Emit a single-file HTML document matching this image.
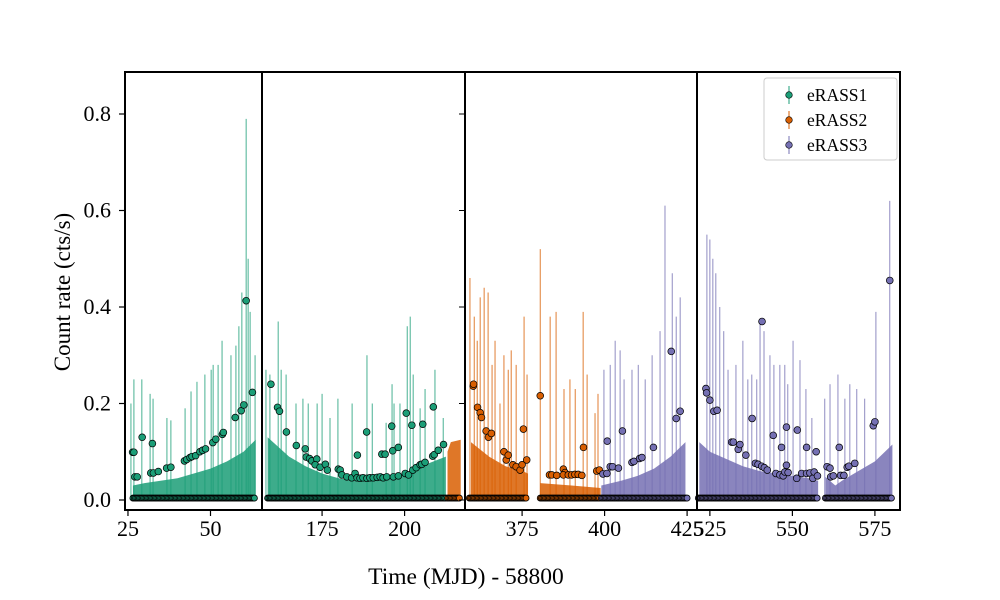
<!DOCTYPE html>
<html><head><meta charset="utf-8">
<style>
body{margin:0;background:#fff;}
svg{display:block;font-family:"Liberation Serif",serif;}
</style></head>
<body>
<svg id="chart" width="1000" height="600" viewBox="0 0 1000 600">
<g id="plot"></g>
<text x="466" y="584" font-size="23.5" text-anchor="middle">Time (MJD) - 58800</text>
<text transform="translate(70,292) rotate(-90)" font-size="23" text-anchor="middle">Count rate (cts/s)</text>
<g>
<rect x="764" y="78" width="133" height="82" rx="3" fill="#fff" stroke="#ccc" stroke-width="1"/>
<g><line x1="789" y1="86" x2="789" y2="104" stroke="#1b9e77"/><circle cx="789" cy="95" r="3.3" fill="#1b9e77" stroke="#000" stroke-width="0.6"/><text x="807" y="101" font-size="17.5">eRASS1</text></g>
<g><line x1="789" y1="111" x2="789" y2="129" stroke="#d95f02"/><circle cx="789" cy="120" r="3.3" fill="#d95f02" stroke="#000" stroke-width="0.6"/><text x="807" y="126" font-size="17.5">eRASS2</text></g>
<g><line x1="789" y1="136" x2="789" y2="154" stroke="#7570b3"/><circle cx="789" cy="145" r="3.3" fill="#7570b3" stroke="#000" stroke-width="0.6"/><text x="807" y="151" font-size="17.5">eRASS3</text></g>
</g>
</svg>
<script>
const yTicks=[0,0.2,0.4,0.6,0.8];
const xTicks=[[25,50],[175,200],[375,400,425],[525,550,575]];
const panelDomains=[[24.1,65.6],[156.8,218.3],[357.7,428.0],[521.1,582.6]];
const colors={e1:"#1b9e77",e2:"#d95f02",e3:"#7570b3"};

// dots [t, rate]
const e1Dots=[[26.4,0.099],[26.8,0.099],[27.1,0.048],[27.8,0.048],[29.3,0.13],[31.9,0.056],[32.7,0.056],[32.4,0.117],[34.2,0.059],[36.7,0.066],[38.0,0.068],[42.1,0.081],[42.8,0.084],[43.8,0.088],[44.4,0.09],[45.5,0.092],[46.8,0.10],[47.6,0.103],[48.5,0.106],[50.7,0.119],[51.6,0.126],[53.6,0.136],[53.9,0.14],[57.5,0.171],[59.3,0.185],[60.1,0.197],[60.8,0.413],[62.7,0.223],
[159.5,0.24],[161.5,0.192],[162.1,0.184],[164.2,0.141],[167.2,0.113],[169.9,0.106],[170.2,0.089],[171.2,0.086],[171.9,0.081],[173.4,0.085],[172.9,0.073],[174.4,0.068],[176.0,0.074],[176.6,0.062],[179.9,0.064],[180.5,0.062],[181.0,0.052],[182.5,0.048],[184.0,0.046],[185.0,0.055],[185.7,0.093],[185.6,0.046],[186.5,0.045],[187.4,0.046],[188.6,0.045],[189.5,0.046],[190.5,0.046],[191.7,0.047],[192.6,0.048],[193.5,0.046],[188.5,0.141],[193.1,0.095],[194.1,0.095],[196.1,0.153],[196.4,0.102],[198.1,0.109],[194.6,0.048],[196.6,0.048],[198.1,0.05],[200.2,0.055],[200.5,0.18],[201.2,0.052],[202.2,0.155],[202.5,0.062],[203.5,0.067],[204.7,0.073],[205.5,0.157],[205.2,0.074],[206.2,0.078],[208.7,0.193],[208.5,0.091],[209.0,0.094],[210.2,0.103],[211.8,0.115]];
const e2Dots=[[360.2,0.236],[360.3,0.24],[361.5,0.192],[362.3,0.181],[362.7,0.171],[364.1,0.143],[364.8,0.13],[365.7,0.138],[369.5,0.10],[370.2,0.083],[370.8,0.093],[372.2,0.073],[373.2,0.069],[374.4,0.062],[375.0,0.073],[375.4,0.147],[376.4,0.083],[380.5,0.216],[383.3,0.052],[384.0,0.052],[385.5,0.051],[387.5,0.064],[388.0,0.057],[387.5,0.052],[389.0,0.052],[390.0,0.052],[391.0,0.053],[392.0,0.053],[393.1,0.051],[393.6,0.109],[397.6,0.06],[398.4,0.062]];
const e3Dots=[[399.5,0.054],[400.7,0.055],[400.8,0.122],[401.7,0.069],[402.4,0.069],[404.2,0.066],[405.4,0.143],[408.3,0.078],[408.9,0.08],[410.6,0.086],[411.3,0.088],[414.8,0.109],[420.2,0.308],[421.7,0.169],[422.9,0.184],
[523.8,0.231],[524.0,0.222],[525.0,0.207],[526.2,0.184],[527.2,0.186],[531.6,0.12],[532.1,0.12],[533.6,0.105],[534.1,0.115],[535.9,0.093],[537.8,0.169],[538.8,0.076],[539.6,0.074],[540.7,0.07],[541.5,0.067],[540.8,0.37],[542.4,0.062],[544.2,0.134],[545.0,0.055],[546.2,0.052],[546.7,0.109],[547.2,0.05],[547.7,0.058],[548.2,0.072],[548.2,0.151],[548.7,0.057],[551.3,0.045],[551.5,0.145],[552.8,0.055],[554.3,0.109],[554.3,0.055],[555.3,0.056],[556.2,0.045],[556.6,0.058],[557.2,0.10],[557.6,0.05],
[560.5,0.069],[561.4,0.066],[561.6,0.048],[562.4,0.05],[564.2,0.109],[564.6,0.051],[565.6,0.051],[566.6,0.068],[567.1,0.07],[568.9,0.076],[574.5,0.154],[575.0,0.162],[579.5,0.455]];

// tall error-bar tops [t, top]
const e1Spikes=[[25.9,0.2],[26.8,0.25],[29.2,0.25],[31.7,0.22],[32.6,0.21],[36.8,0.17],[38.0,0.165],[42.3,0.19],[44.1,0.225],[45.9,0.245],[48.3,0.26],[50.2,0.27],[50.8,0.28],[52.3,0.28],[53.5,0.33],[56.2,0.3],[57.7,0.32],[58.6,0.36],[59.5,0.43],[60.8,0.79],[61.4,0.5],[62.0,0.39],[63.5,0.3],
[158.0,0.27],[159.2,0.26],[161.7,0.37],[162.6,0.27],[164.1,0.26],[167.1,0.2],[169.2,0.21],[170.8,0.2],[173.5,0.2],[175.0,0.22],[177.4,0.17],[179.8,0.21],[184.1,0.2],[188.6,0.3],[190.2,0.2],[194.4,0.16],[196.2,0.24],[196.8,0.2],[198.6,0.2],[200.8,0.36],[201.7,0.38],[202.6,0.26],[204.7,0.19],[206.2,0.23],[209.2,0.27],[211.7,0.17]];
const e2Spikes=[[359.2,0.46],[360.5,0.38],[361.4,0.33],[362.3,0.42],[363.5,0.44],[364.7,0.43],[365.9,0.28],[366.8,0.33],[368.3,0.2],[369.5,0.3],[370.8,0.27],[371.7,0.31],[373.2,0.28],[375.6,0.38],[376.5,0.26],[380.5,0.52],[383.5,0.38],[385.3,0.39],[387.7,0.23],[389.5,0.25],[391.1,0.23],[393.5,0.39],[394.7,0.26],[397.1,0.18],[398.0,0.22]];
const e3Spikes=[[399.8,0.27],[401.7,0.28],[403.2,0.33],[404.7,0.31],[405.9,0.25],[408.3,0.27],[410.2,0.28],[412.3,0.25],[414.4,0.3],[416.8,0.35],[418.3,0.61],[420.5,0.47],[421.7,0.38],[422.9,0.42],
[524.1,0.55],[525.0,0.54],[525.9,0.5],[526.8,0.47],[528.0,0.4],[529.2,0.35],[530.5,0.27],[532.9,0.28],[535.0,0.33],[536.5,0.25],[537.7,0.26],[539.2,0.25],[540.2,0.37],[541.4,0.35],[543.2,0.3],[544.4,0.28],[546.2,0.28],[547.7,0.28],[548.6,0.24],[550.2,0.33],[552.3,0.29],[554.1,0.23],[555.9,0.17],[559.8,0.21],[561.4,0.24],[563.8,0.26],[565.9,0.21],[567.4,0.24],[569.5,0.23],[571.9,0.21],[575.3,0.39],[579.5,0.62]];

// band envelopes (segments of [t, top])
const e1Bands=[[[26.5,0.03],[30,0.035],[40,0.045],[50,0.065],[55,0.08],[60,0.1],[63.7,0.125]],
[[158.5,0.13],[165,0.09],[170,0.07],[175,0.055],[180,0.045],[185,0.04],[190,0.04],[195,0.045],[200,0.055],[205,0.07],[212.5,0.09]]];
const e2Bands=[[[213,0.1],[214,0.12],[217,0.125]],
[[359.5,0.12],[365,0.09],[370,0.07],[375,0.06],[376.8,0.055]],
[[380.5,0.035],[390,0.03],[398.8,0.025]]];
const e3Bands=[[[399,0.03],[405,0.04],[410,0.05],[415,0.065],[420,0.09],[424.5,0.12]],
[[521.8,0.12],[525,0.1],[530,0.085],[535,0.07],[540,0.06],[545,0.055],[550,0.05],[555,0.045],[557.8,0.04]],
[[560,0.048],[563,0.03],[565,0.04],[570,0.06],[575,0.08],[580.3,0.115]]];

// bottom-row (upper-limit) time ranges
const e1Rows=[[26.5,63.5],[158.5,212.5]];
const e2Rows=[[213,216.8],[359,376.5],[380.5,398.5]];
const e3Rows=[[399,425],[521.5,557.5],[560,580]];

const panelPx=[[125,262],[262,465],[465,697],[697,900]];
const Y0=500, YPX=482.5, TOP=72, BOT=510;
const yS=v=>Y0-v*YPX;
function panelOf(t){for(let i=0;i<4;i++){const d=panelDomains[i];if(t>=d[0]&&t<=d[1])return i;}return -1;}
function xS(t){const i=panelOf(t);const d=panelDomains[i],p=panelPx[i];return p[0]+(t-d[0])/(d[1]-d[0])*(p[1]-p[0]);}

const NS="http://www.w3.org/2000/svg";
const plot=document.getElementById('plot');
function mk(tag,attrs,parent){const e=document.createElementNS(NS,tag);for(const k in attrs)e.setAttribute(k,attrs[k]);(parent||plot).appendChild(e);return e;}

const series=[["erass1",colors.e1,e1Bands,e1Spikes,e1Rows,e1Dots],["erass2",colors.e2,e2Bands,e2Spikes,e2Rows,e2Dots],["erass3",colors.e3,e3Bands,e3Spikes,e3Rows,e3Dots]];
series.forEach(s=>{
  const [nm,col,bands,spikes,rows,dots]=s;
  const g=mk('g',{});
  
  
  bands.forEach(seg=>{
    let pts=seg.map(p=>xS(p[0])+','+yS(p[1]));
    pts.push(xS(seg[seg.length-1][0])+','+yS(0));pts.push(xS(seg[0][0])+','+yS(0));
    const b=mk('polygon',{points:pts.join(' '),fill:col,opacity:0.85},g);
    
    
  });
  spikes.forEach(p=>{
    const l=mk('line',{x1:xS(p[0]),x2:xS(p[0]),y1:yS(0),y2:yS(p[1]),stroke:col,'stroke-width':1,opacity:0.8},g);
    
    
  });
  rows.forEach(r=>{
    for(let t=r[0];t<=r[1]+1e-6;t+=0.4){
      const c=mk('circle',{cx:xS(t),cy:yS(0.004),r:3,fill:col,stroke:'#000','stroke-width':0.8},g);
      
      
    }
  });
  dots.forEach(p=>{
    const c=mk('circle',{cx:xS(p[0]),cy:yS(p[1]),r:3.4,fill:col,stroke:'#000','stroke-width':0.7},g);
    
    
  });
});

// frames, ticks
panelPx.forEach((p,i)=>{
  const r=mk('rect',{x:p[0],y:TOP,width:p[1]-p[0],height:BOT-TOP,fill:'none',stroke:'#000','stroke-width':2});
  
  
  xTicks[i].forEach(t=>{
    const x=xS(t);
    const tk=mk('line',{x1:x,x2:x,y1:BOT,y2:BOT+6,stroke:'#000','stroke-width':1.2});
    
    
    const tx=mk('text',{x:x,y:BOT+26,'font-size':22,'text-anchor':'middle'});
    tx.textContent=t;
    
    
  });
});
yTicks.forEach(v=>{
  const y=yS(v);
  const tk=mk('line',{x1:119,x2:125,y1:y,y2:y,stroke:'#000','stroke-width':1.2});
  
  
  const tk2=mk('line',{x1:459,x2:465,y1:y,y2:y,stroke:'#000','stroke-width':1});
  
  
  const tx=mk('text',{x:111,y:y+7,'font-size':22,'text-anchor':'end'});
  tx.textContent=v.toFixed(1);
  
  
});
</script>
</body></html>
